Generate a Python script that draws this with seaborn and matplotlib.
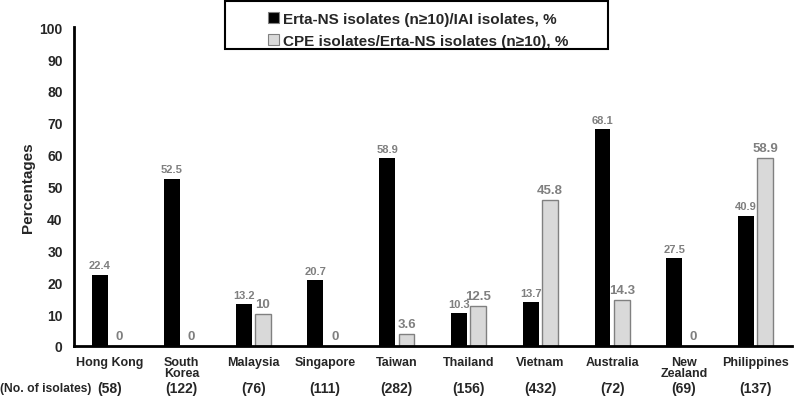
import matplotlib.pyplot as plt
import matplotlib.patches as mpatches
import seaborn as sns
import pandas as pd
import numpy as np

# data
countries = ['Hong Kong', 'South\nKorea', 'Malaysia', 'Singapore', 'Taiwan',
             'Thailand', 'Vietnam', 'Australia', 'New\nZealand', 'Philippines']
n_isolates = [58, 122, 76, 111, 282, 156, 432, 72, 69, 137]
erta_ns = [22.4, 52.5, 13.2, 20.7, 58.9, 10.3, 13.7, 68.1, 27.5, 40.9]
cpe = [0, 0, 10, 0, 3.6, 12.5, 45.8, 14.3, 0, 58.9]
cpe_labels = ['0', '0', '10', '0', '3.6', '12.5', '45.8', '14.3', '0', '58.9']
series_names = ['Erta-NS isolates (n\u226510)/IAI isolates, %',
                'CPE isolates/Erta-NS isolates (n\u226510), %']

df = pd.DataFrame({
    'country': countries * 2,
    'value': erta_ns + cpe,
    'series': [series_names[0]] * len(countries) + [series_names[1]] * len(countries),
})

sns.set_style('white')
plt.rcParams['font.family'] = ['Liberation Sans', 'DejaVu Sans']
plt.rcParams['font.weight'] = 'bold'

fig, ax = plt.subplots(figsize=(7.94, 4.02), dpi=100)
fig.subplots_adjust(left=0.093, right=0.997, bottom=0.137, top=0.930)

sns.barplot(data=df, x='country', y='value', hue='series', order=countries,
            hue_order=series_names, palette=['black', '#d9d9d9'],
            width=0.54, gap=0.18, ax=ax, legend=True)

# grey bars get a thin grey outline
for p in ax.containers[1]:
    p.set_edgecolor('#808080')
    p.set_linewidth(1.0)
for p in ax.containers[0]:
    p.set_linewidth(0)

ax.bar_label(ax.containers[0], labels=[f'{v:.1f}' for v in erta_ns], padding=3,
             fontsize=8, color='#7f7f7f', fontweight='bold')
ax.bar_label(ax.containers[1], labels=cpe_labels, padding=3,
             fontsize=9.5, color='#7f7f7f', fontweight='bold')

ax.set_ylim(0, 100)
ax.set_xlim(-0.5, 9.5)
ax.set_yticks(np.arange(0, 101, 10))
ax.set_yticklabels([str(t) for t in range(0, 101, 10)], fontsize=10, fontweight='bold')
ax.set_ylabel('Percentages', fontsize=11, fontweight='bold', labelpad=3)
ax.set_xlabel('')
ax.set_xticks(range(len(countries)))
ax.set_xticklabels(countries, fontsize=9, fontweight='bold', linespacing=0.95)
ax.set_xticks(np.arange(-0.5, 10, 1), minor=True)
ax.tick_params(axis='x', which='major', length=0, pad=7)
ax.tick_params(axis='x', which='minor', length=4, width=2, direction='out', color='black')
ax.tick_params(axis='y', length=5, width=2, direction='out', color='black', pad=3)

for side in ['top', 'right']:
    ax.spines[side].set_visible(False)
for side in ['left', 'bottom']:
    ax.spines[side].set_linewidth(2)
    ax.spines[side].set_color('black')

# isolate counts row
tr = ax.get_xaxis_transform()
for i, n in enumerate(n_isolates):
    ax.text(i, -0.133, f'({n})', transform=tr, ha='center', va='center',
            fontsize=10, fontweight='bold')
fig.text(0.0, 1 - 389 / 402, '(No. of isolates)', ha='left', va='center',
         fontsize=8.7, fontweight='bold')

leg = ax.legend(loc='upper left', bbox_to_anchor=(257 / 794, 1 - 2 / 402),
                bbox_transform=fig.transFigure, frameon=False,
                handlelength=0.75, handleheight=0.75,
                handletextpad=0.25, labelspacing=0.55, borderpad=0.2,
                prop={'size': 11, 'weight': 'bold'})
leg.set_title(None)
for h in leg.legend_handles:
    h.set_edgecolor('#808080')
    h.set_linewidth(0.8)

# legend frame, wider than its entries as in the reference
fig.patches.append(mpatches.Rectangle((225 / 794, 1 - 50 / 402), 383 / 794, 48.5 / 402,
                                      transform=fig.transFigure, fill=False,
                                      edgecolor='black', linewidth=1.5))

fig.savefig('out.png', dpi=100)
